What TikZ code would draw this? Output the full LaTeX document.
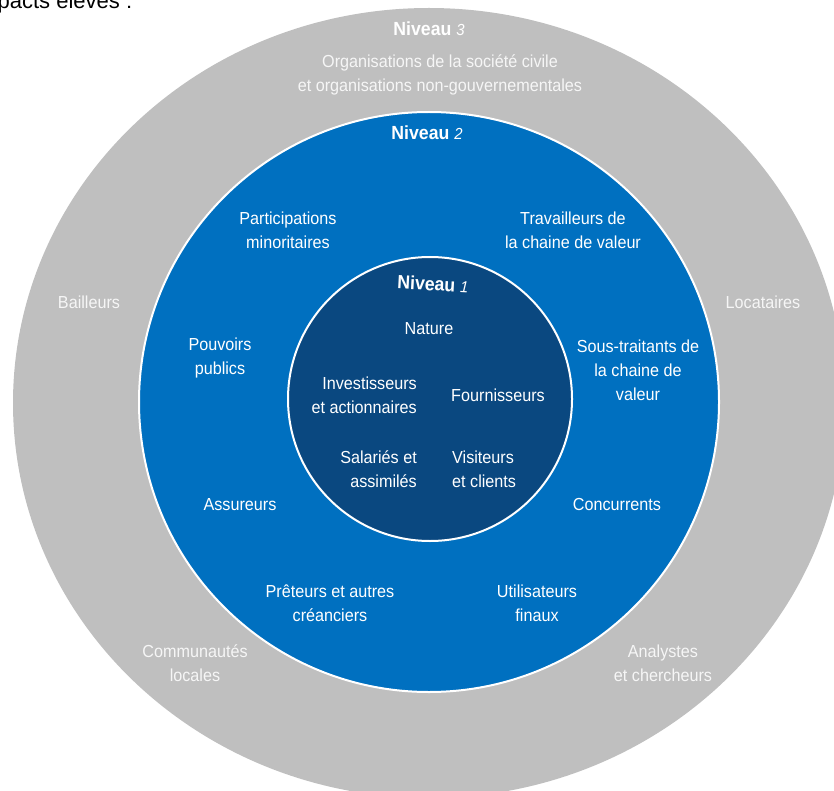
\documentclass[tikz,border=0pt]{standalone}
\usepackage{fontspec}
\setmainfont{Liberation Sans}[FakeStretch=0.93]
\newfontfamily\plainfont{Liberation Sans}
\definecolor{ringgray}{RGB}{191,191,191}
\definecolor{ringblue}{RGB}{0,112,192}
\definecolor{coreblue}{RGB}{10,72,128}
\definecolor{softwhite}{RGB}{246,246,246}
\tikzset{
  lbl/.style={text=white, align=center, font=\fontsize{17.4}{24}\selectfont, inner sep=0pt},
  glbl/.style={lbl, text=softwhite},
  lvl/.style={text=white, font=\fontsize{19}{22}\selectfont\bfseries, inner sep=0pt},
}
\newcommand{\lvnum}[1]{{\fontsize{16}{18}\selectfont\mdseries\itshape #1}}
\begin{document}
\begin{tikzpicture}[x=1pt,y=-1pt]
\useasboundingbox (0,0) rectangle (834,791);
\clip (0,0) rectangle (834,791);
% rings
\fill[ringgray] (429,403) ellipse [x radius=416pt, y radius=395pt];
\node[circle, fill=ringblue, draw=white, line width=2pt, minimum size=580pt, inner sep=0pt] (l2) at (429,402) {};
\node[circle, fill=coreblue, draw=white, line width=2pt, minimum size=284pt, inner sep=0pt] (l1) at (430,399) {};
% cut heading
\node[anchor=base west, inner sep=0pt, font=\plainfont\fontsize{22}{26}\selectfont] (head) at (-27,9) {Impacts élevés :};
% level 3
\node[lvl] (n3) at (429,29) {Niveau \lvnum{3}};
\node[glbl] (orgs) at (440,75) {Organisations de la société civile\\et organisations non-gouvernementales};
\node[glbl] (bail) at (89,302) {Bailleurs};
\node[glbl] (loca) at (763,302) {Locataires};
\node[glbl] (comm) at (195,663) {Communautés\\locales};
\node[glbl] (anal) at (663,663) {Analystes\\et chercheurs};
% level 2
\node[lvl] (n2) at (427,133) {Niveau \lvnum{2}};
\node[lbl] (part) at (288,230) {Participations\\minoritaires};
\node[lbl] (trav) at (573,230) {Travailleurs de\\la chaine de valeur};
\node[lbl] (pouv) at (220,358) {Pouvoirs\\publics};
\node[lbl] (sous) at (638,370) {Sous-traitants de\\la chaine de\\valeur};
\node[lbl] (assu) at (240,505) {Assureurs};
\node[lbl] (conc) at (617,505) {Concurrents};
\node[lbl] (pret) at (330,603) {Prêteurs et autres\\créanciers};
\node[lbl] (util) at (537,603) {Utilisateurs\\finaux};
% level 1
\node[lvl, rotate=-3] (n1) at (433,284) {Niveau \lvnum{1}};
\node[lbl] (natu) at (429,329) {Nature};
\node[lbl, align=right, anchor=east] (inve) at (417,395) {Investisseurs\\et actionnaires};
\node[lbl] (four) at (498,395) {Fournisseurs};
\node[lbl, align=right, anchor=east] (sala) at (417,469) {Salariés et\\assimilés};
\node[lbl, align=left, anchor=west] (visi) at (452,469) {Visiteurs\\et clients};
\end{tikzpicture}
\end{document}
